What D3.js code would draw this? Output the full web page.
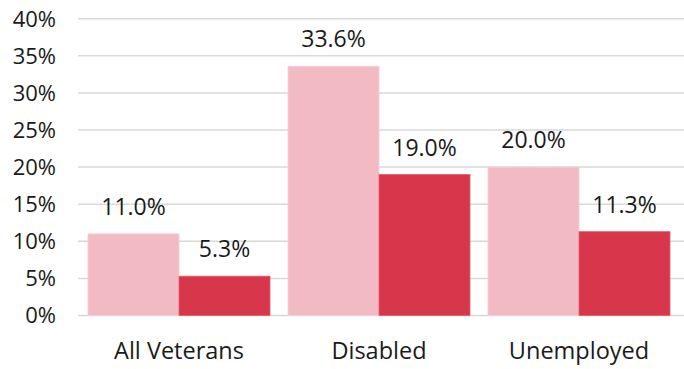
<!DOCTYPE html>
<html>
<head>
<meta charset="utf-8">
<script src="https://cdn.jsdelivr.net/npm/d3@7"></script>
<style>
  html, body { margin: 0; padding: 0; background: #fff; }
  svg text { font-family: "Open Sans", "Liberation Sans", sans-serif; fill: #1a1a1a; }
</style>
</head>
<body>
<svg id="chart" width="684" height="369"></svg>
<script>
const categories = ['All Veterans', 'Disabled', 'Unemployed'];
const seriesA = [11.0, 33.6, 20.0];
const seriesB = [5.3, 19.0, 11.3];
const yTicks = [0, 5, 10, 15, 20, 25, 30, 35, 40];

const svg = d3.select('#chart');
const colors = ['#f2bac2', '#d8374b'];

// scales
const y = d3.scaleLinear().domain([0, 40]).range([315.5, 18.7]);
const x = d3.scaleBand().domain(categories).range([79, 679]).paddingInner(0.09).paddingOuter(0.045);
const xs = d3.scaleBand().domain([0, 1]).range([0, x.bandwidth()]);

// gridlines
svg.append('g').selectAll('line').data(yTicks).join('line')
    .attr('x1', 78).attr('x2', 684)
    .attr('y1', d => y(d)).attr('y2', d => y(d))
    .attr('stroke', '#d9d9d9').attr('stroke-width', 1.5);

// y axis labels
const yAxis = svg.append('g').attr('transform', 'translate(56,0)')
    .call(d3.axisLeft(y).tickValues(yTicks).tickSize(0).tickPadding(0).tickFormat(d => d + '%'));
yAxis.select('.domain').remove();
yAxis.selectAll('text').attr('font-size', 22).attr('fill', '#1a1a1a').attr('font-family', null).attr('dy', '0.34em');

const data = categories.map((c, i) => ({cat: c, vals: [seriesA[i], seriesB[i]]}));

const groups = svg.append('g').selectAll('g').data(data).join('g')
    .attr('transform', d => `translate(${x(d.cat)},0)`);

groups.selectAll('rect').data(d => d.vals).join('rect')
    .attr('x', (d, i) => xs(i))
    .attr('y', d => y(d))
    .attr('width', xs.bandwidth())
    .attr('height', d => y(0) - y(d))
    .attr('fill', (d, i) => colors[i])
    .attr('stroke', (d, i) => i === 0 ? '#f6d0d6' : '#e0606f')
    .attr('stroke-width', 0.8);

groups.selectAll('text.val').data(d => d.vals).join('text')
    .attr('class', 'val')
    .attr('x', (d, i) => xs(i) + xs.bandwidth() / 2)
    .attr('y', d => y(d) - 19)
    .attr('text-anchor', 'middle')
    .attr('font-size', 23)
    .text(d => d.toFixed(1) + '%');

// x axis labels
svg.append('g').selectAll('text').data(categories).join('text')
    .attr('x', d => x(d) + x.bandwidth() / 2)
    .attr('y', 359)
    .attr('text-anchor', 'middle')
    .attr('font-size', 23.5)
    .text(d => d);
</script>
</body>
</html>
